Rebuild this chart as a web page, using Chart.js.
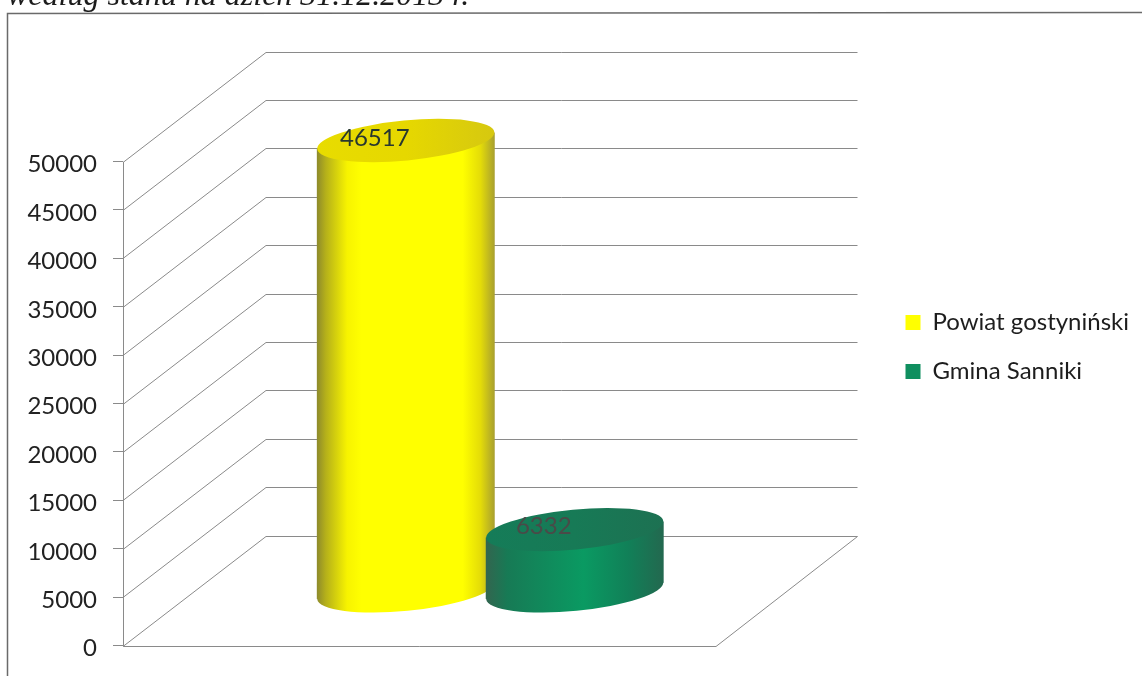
<!DOCTYPE html>
<html>
<head>
<meta charset="utf-8">
<style>
html,body{margin:0;padding:0;background:#fff;overflow:hidden}
canvas{display:block}
</style>
<script src="https://cdn.jsdelivr.net/npm/chart.js@4"></script>
</head>
<body>
<canvas id="chart" width="1142" height="676"></canvas>
<script>
const categories = ['']
const seriesNames = ['Powiat gostyniński', 'Gmina Sanniki']
const powiatValues = [46517]
const gminaValues = [6332]
const tickStep = 5000
const tickMax = 50000
const headline = 'według stanu na dzień 31.12.2013 r.'

// 3D box the library knows nothing about: how far the back wall sits from the front plane
const wallDx = 143
const wallDy = 110
const frontRight = 716
const pxPerUnit = 486 / tickMax
const plotHeight = 596
const yMax = plotHeight / pxPerUnit
// bars stand in the middle of the floor, so their axis is shifted by half the depth
const depthMin = -(wallDy / 2) / pxPerUnit

const tilt = -5.5 * Math.PI / 180
const capRatio = 20 / 89

const lineColor = '#8a8a8a'
const fonts = 'Lato, "Noto Sans", sans-serif'

const bodyStops = [
    [[0, '#8d8a2c'], [0.05, '#b5b01a'], [0.17, '#f7f300'], [0.25, '#ffff00'], [0.82, '#ffff00'], [0.92, '#e4dc08'], [1, '#a89f30']],
    [[0, '#33654f'], [0.12, '#177a55'], [0.55, '#0a9a62'], [0.8, '#118058'], [1, '#23684f']]
]
const capStops = [
    [[0, '#e8dc00'], [0.5, '#e6d800'], [1, '#d6c810']],
    [[0, '#157c58'], [0.5, '#177a56'], [1, '#1d7152']]
]
const labelColors = ['#27372f', '#4a4a48']
const labelShift = [[-31, -2], [-31, -3]]

function hGradient(ctx, x0, x1, stops) {
    const g = ctx.createLinearGradient(x0, 0, x1, 0)
    stops.forEach(s => g.addColorStop(s[0], s[1]))
    return g
}

function drawCylinder(ctx, bar, i) {
    const rx = bar.width / 2
    const ry = rx * capRatio
    const sag = (rx * rx - ry * ry) * Math.sin(-tilt) * Math.cos(tilt) / rx
    const left = bar.x - rx, right = bar.x + rx
    ctx.fillStyle = hGradient(ctx, left, right, bodyStops[i])
    ctx.beginPath()
    ctx.ellipse(bar.x, bar.base, rx, ry, tilt, 0, Math.PI * 2)
    ctx.fill()
    ctx.beginPath()
    ctx.moveTo(left, bar.y + sag)
    ctx.lineTo(left, bar.base + sag)
    ctx.lineTo(right, bar.base - sag)
    ctx.lineTo(right, bar.y - sag)
    ctx.closePath()
    ctx.fill()
    ctx.fillStyle = hGradient(ctx, left, right, capStops[i])
    ctx.beginPath()
    ctx.ellipse(bar.x, bar.y, rx, ry, tilt, 0, Math.PI * 2)
    ctx.fill()
}

const box3d = {
    id: 'box3d',
    afterLayout(chart) {
        // legend sits further right than the layout leaves it
        chart.legend.left += 23
        chart.legend.right += 23
        chart.legend.top -= 3
        chart.legend.bottom -= 3
    },
    beforeDatasetsDraw(chart) {
        const ctx = chart.ctx
        const y = chart.scales.y
        const area = chart.chartArea
        ctx.save()
        ctx.font = 'italic 32px "Liberation Serif", serif'
        ctx.fillStyle = '#1c1c1c'
        ctx.textBaseline = 'alphabetic'
        ctx.fillText(headline, 7, 5)
        // page frame of the scanned chart
        ctx.strokeStyle = '#6a6a6a'
        ctx.lineWidth = 1.5
        ctx.beginPath()
        ctx.moveTo(7.5, 676)
        ctx.lineTo(7.5, 13.5)
        ctx.lineTo(1142, 12.5)
        ctx.stroke()
        ctx.strokeStyle = lineColor
        ctx.lineWidth = 1
        y.ticks.forEach(t => {
            const py = Math.round(y.getPixelForValue(t.value)) + 0.5
            ctx.beginPath()
            ctx.moveTo(area.left, py)
            ctx.lineTo(area.left + wallDx, py - wallDy)
            ctx.lineTo(area.right, py - wallDy)
            ctx.stroke()
        })
        const y0 = Math.round(y.getPixelForValue(0)) + 0.5
        ctx.beginPath()
        ctx.moveTo(area.left + 0.5, Math.round(y.getPixelForValue(tickMax)))
        ctx.lineTo(area.left + 0.5, y0)
        ctx.lineTo(frontRight, y0)
        ctx.lineTo(area.right, y0 - wallDy)
        ctx.stroke()
        ctx.restore()
    },
    beforeDatasetDraw() {
        return false
    },
    afterDatasetsDraw(chart) {
        const ctx = chart.ctx
        ctx.save()
        chart.data.datasets.forEach((ds, i) => {
            const bar = chart.getDatasetMeta(i).data[0]
            drawCylinder(ctx, bar, i)
            ctx.font = '24px ' + fonts
            ctx.fillStyle = labelColors[i]
            ctx.textAlign = 'center'
            ctx.textBaseline = 'middle'
            ctx.fillText(ds.data[0], bar.x + labelShift[i][0], bar.y + labelShift[i][1])
        })
        ctx.restore()
    }
}

new Chart(document.getElementById('chart').getContext('2d'), {
    type: 'bar',
    data: {
        labels: categories,
        datasets: [
            {label: seriesNames[0], data: powiatValues, backgroundColor: '#ffff00', yAxisID: 'yDepth'},
            {label: seriesNames[1], data: gminaValues, backgroundColor: '#0f8f5f', yAxisID: 'yDepth'}
        ]
    },
    plugins: [box3d],
    options: {
        responsive: false,
        animation: false,
        categoryPercentage: 0.46,
        barPercentage: 1.053,
        layout: {padding: {top: 52, bottom: 28, left: 0, right: 26}},
        plugins: {
            tooltip: {enabled: false},
            legend: {
                position: 'right',
                labels: {
                    font: {family: fonts, size: 24},
                    color: '#1d1d1d',
                    boxWidth: 15,
                    boxHeight: 15,
                    padding: 25
                }
            }
        },
        scales: {
            x: {display: false},
            y: {
                min: 0,
                max: yMax,
                position: 'left',
                afterBuildTicks(scale) {
                    const list = []
                    for (let v = tickMax; v >= 0; v -= tickStep) list.push({value: v})
                    scale.ticks = list
                },
                afterFit(scale) {
                    scale.width = 123
                },
                border: {display: false},
                grid: {drawOnChartArea: false, tickLength: 10, color: lineColor},
                ticks: {
                    font: {family: fonts, size: 24},
                    color: '#222',
                    padding: 16,
                    labelOffset: 3,
                    autoSkip: false,
                    maxRotation: 0,
                    callback: v => String(v)
                }
            },
            yDepth: {
                display: false,
                min: depthMin,
                max: yMax + depthMin,
                position: 'right'
            }
        }
    }
})
</script>
</body>
</html>
